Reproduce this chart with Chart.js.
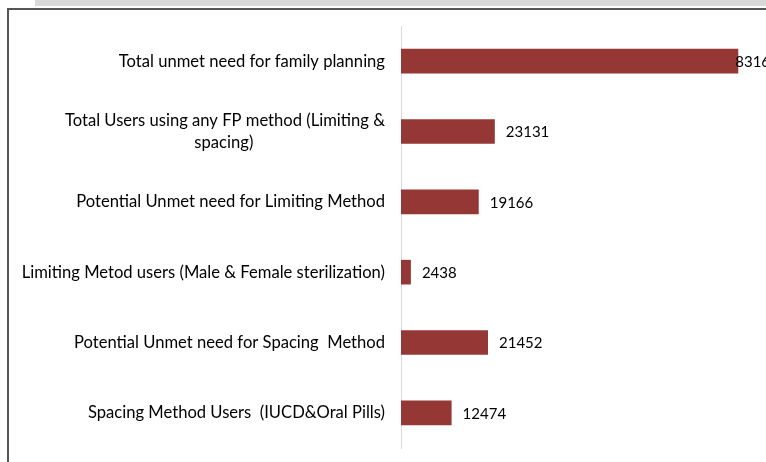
<!DOCTYPE html>
<html>
<head>
<meta charset="utf-8">
<script src="https://cdn.jsdelivr.net/npm/chart.js@4"></script>
<style>
  html, body { margin: 0; padding: 0; background: #fff; }
  body { width: 766px; height: 462px; position: relative; overflow: hidden; }
  #banda { position: absolute; left: 35px; top: 0; width: 731px; height: 6px; background: #d9d9d9; }
  #marco { position: absolute; left: 7px; top: 8px; width: 780px; height: 470px;
           border-left: 2px solid #555; border-top: 2px solid #555; }
  #caja { position: absolute; left: 9px; top: 10px; width: 757px; height: 452px; }
</style>
</head>
<body>
<div id="banda"></div>
<div id="marco"></div>
<div id="caja"><canvas id="grafico"></canvas></div>
<script>
// categorias (de arriba hacia abajo)
const categorias = [
    'Total unmet need for family planning',
    ['Total Users using any FP method (Limiting &', 'spacing)'],
    'Potential Unmet need for Limiting Method',
    'Limiting Metod users (Male & Female sterilization)',
    'Potential Unmet need for Spacing  Method',
    'Spacing Method Users  (IUCD&Oral Pills)'
];
// valores de las barras
const valores = [83163, 23131, 19166, 2438, 21452, 12474];
const maxEje = 90000;

const fuenteEje = { family: 'Lato', size: 16.6, lineHeight: 1.33 };
const fuenteValor = { family: 'Lato', size: 15 };

// centrar lineas cortas agregando espacios (el eje alinea a la derecha)
function centrar(lineas) {
    const c = document.createElement('canvas').getContext('2d');
    c.font = fuenteEje.size + 'px ' + fuenteEje.family;
    const ancho = Math.max.apply(null, lineas.map(function (l) { return c.measureText(l).width; }));
    const esp = c.measureText(' ').width;
    return lineas.map(function (l) {
        const n = Math.round((ancho - c.measureText(l).width) / 2 / esp);
        return l + ' '.repeat(n);
    });
}

// etiquetas al final de cada barra
const etiquetas = {
    id: 'etiquetas',
    afterDatasetsDraw(chart) {
        const ctx = chart.ctx;
        const meta = chart.getDatasetMeta(0);
        ctx.save();
        ctx.font = fuenteValor.size + 'px ' + fuenteValor.family;
        ctx.fillStyle = '#000';
        ctx.textBaseline = 'middle';
        meta.data.forEach(function (barra, i) {
            const txt = String(valores[i]);
            let x = barra.x + 11;
            if (x + ctx.measureText(txt).width > chart.width) x = barra.x - 3;
            ctx.fillText(txt, x, barra.y + 1);
        });
        ctx.restore();
    }
};

new Chart(document.getElementById('grafico'), {
    type: 'bar',
    data: {
        labels: categorias,
        datasets: [{
            data: valores,
            backgroundColor: '#953735',
            barPercentage: 0.35,
            categoryPercentage: 1
        }]
    },
    options: {
        indexAxis: 'y',
        responsive: true,
        maintainAspectRatio: false,
        animation: false,
        layout: { padding: { top: 16, bottom: 14, right: 0, left: 0 } },
        plugins: { legend: { display: false }, tooltip: { enabled: false } },
        scales: {
            x: { display: false, min: 0, max: maxEje },
            y: {
                afterFit(scale) {
                    scale.width = 392;
                    scale.paddingTop = 0;
                    scale.paddingBottom = 0;
                },
                grid: { display: false, drawTicks: false },
                border: { display: true, color: '#d9d9d9', width: 1 },
                ticks: {
                    color: '#000', font: fuenteEje, padding: 16,
                    callback: function (v, i) {
                        const l = categorias[i];
                        return Array.isArray(l) ? centrar(l) : l;
                    }
                }
            }
        }
    },
    plugins: [etiquetas]
});
</script>
</body>
</html>
